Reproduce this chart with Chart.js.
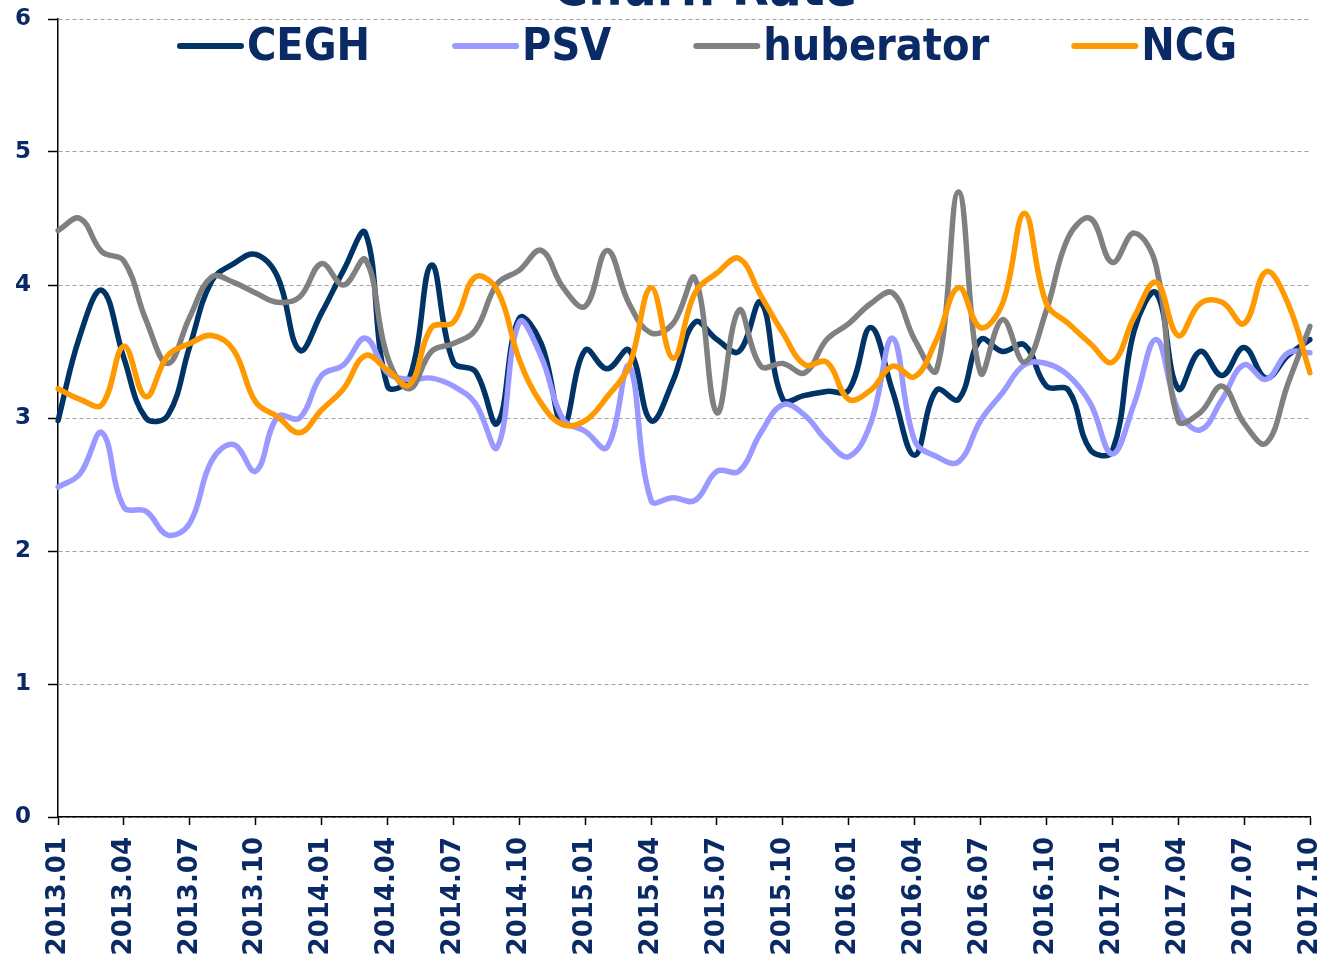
<!DOCTYPE html>
<html>
<head>
<meta charset="utf-8">
<script src="https://cdn.jsdelivr.net/npm/chart.js@4"></script>
<style>
html,body{margin:0;padding:0;background:#fff;}
canvas{display:block;}
</style>
</head>
<body>
<canvas id="churn" width="1323" height="956"></canvas>
<script>
const months = [
"2013.01","2013.02","2013.03","2013.04","2013.05","2013.06","2013.07","2013.08","2013.09","2013.10","2013.11","2013.12",
"2014.01","2014.02","2014.03","2014.04","2014.05","2014.06","2014.07","2014.08","2014.09","2014.10","2014.11","2014.12",
"2015.01","2015.02","2015.03","2015.04","2015.05","2015.06","2015.07","2015.08","2015.09","2015.10","2015.11","2015.12",
"2016.01","2016.02","2016.03","2016.04","2016.05","2016.06","2016.07","2016.08","2016.09","2016.10","2016.11","2016.12",
"2017.01","2017.02","2017.03","2017.04","2017.05","2017.06","2017.07","2017.08","2017.09","2017.10"
];

const cegh = [
2.98,3.62,3.96,3.45,3.00,3.02,3.54,4.03,4.16,4.23,4.06,3.51,
3.79,4.11,4.39,3.24,3.30,4.15,3.42,3.35,2.96,3.75,3.56,2.95,
3.51,3.37,3.51,2.98,3.28,3.72,3.59,3.50,3.87,3.14,3.17,3.20,
3.21,3.68,3.20,2.72,3.21,3.14,3.59,3.50,3.55,3.24,3.21,2.76,
2.75,3.66,3.94,3.22,3.50,3.32,3.53,3.30,3.47,3.59
];

const psv = [
2.48,2.58,2.89,2.33,2.30,2.12,2.21,2.68,2.80,2.60,3.01,3.00,
3.32,3.40,3.60,3.34,3.29,3.30,3.24,3.11,2.78,3.72,3.46,2.99,
2.90,2.78,3.39,2.38,2.40,2.38,2.60,2.60,2.89,3.10,3.02,2.83,
2.71,2.96,3.60,2.83,2.71,2.67,2.98,3.19,3.40,3.41,3.32,3.11,
2.73,3.11,3.59,3.06,2.91,3.14,3.40,3.29,3.49,3.49
];

const huberator = [
4.41,4.50,4.25,4.18,3.74,3.41,3.76,4.06,4.02,3.94,3.87,3.91,
4.16,4.00,4.19,3.46,3.22,3.50,3.56,3.66,4.01,4.11,4.26,3.98,
3.84,4.26,3.86,3.64,3.71,4.05,3.04,3.81,3.39,3.41,3.34,3.59,
3.71,3.86,3.94,3.59,3.36,4.70,3.34,3.74,3.42,3.81,4.36,4.50,
4.17,4.39,4.14,2.98,3.04,3.24,2.96,2.81,3.26,3.69
];

const ncg = [
3.22,3.14,3.10,3.54,3.16,3.47,3.56,3.62,3.51,3.12,3.01,2.89,
3.06,3.22,3.47,3.36,3.25,3.68,3.72,4.06,3.96,3.44,3.11,2.95,
2.98,3.16,3.39,3.98,3.45,3.94,4.09,4.20,3.92,3.64,3.40,3.42,
3.14,3.21,3.39,3.31,3.59,3.98,3.68,3.86,4.54,3.86,3.71,3.56,
3.42,3.76,4.02,3.62,3.86,3.87,3.71,4.10,3.86,3.34
];

const seriesNames = ["CEGH","PSV","huberator","NCG"];
const seriesData = [cegh,psv,huberator,ncg];
const seriesColors = ["#003366","#9999ff","#808080","#ff9900"];
const chartTitle = "Churn Rate";

const navy = "#0a2a66";
const fontName = "'DejaVu Sans'";

// text squeezed a bit sideways, the original font is narrower
function squeezeText(ctx,txt,x,y,sx){
ctx.save();
ctx.translate(x,y);
ctx.scale(sx,1);
ctx.fillText(txt,0,0);
ctx.restore();
}

// title (cut by the top edge) and the legend sitting inside the plot
const topTexts = {
id:"topTexts",
afterDraw(chart){

const ctx = chart.ctx;
const sx = 0.91;

ctx.save();
ctx.fillStyle = navy;
ctx.textBaseline = "alphabetic";
ctx.textAlign = "left";

ctx.font = "bold 53px " + fontName;
let tw = ctx.measureText(chartTitle).width*sx;
squeezeText(ctx,chartTitle,705-tw/2,5,sx);

ctx.font = "bold 44px " + fontName;

const lineLen = 65;
const gap = 82;

let widths = seriesNames.map(n=>ctx.measureText(n).width*sx);
let total = 0;
widths.forEach(w=>{ total += lineLen + 5 + w; });
total += gap*(seriesNames.length-1);

let x = 707 - total/2;

seriesNames.forEach((n,i)=>{

ctx.strokeStyle = seriesColors[i];
ctx.lineWidth = 6;
ctx.lineCap = "round";
ctx.beginPath();
ctx.moveTo(x+3,46);
ctx.lineTo(x+lineLen-1,46);
ctx.stroke();

ctx.fillStyle = navy;
squeezeText(ctx,n,x+lineLen+5,60,sx);

x += lineLen + 5 + widths[i] + gap;

});

ctx.restore();
}
};

new Chart(
document.getElementById("churn"),
{
type:"line",
data:{
labels:months,
datasets:seriesNames.map((n,i)=>({
label:n,
data:seriesData[i],
borderColor:seriesColors[i],
backgroundColor:seriesColors[i],
borderWidth:5.5,
pointRadius:0,
pointHoverRadius:0,
tension:0.4,
fill:false,
borderCapStyle:"round",
borderJoinStyle:"round",
order:3-i
}))
},
options:{
responsive:false,
animation:false,
layout:{
padding:0
},
plugins:{
legend:{display:false},
title:{display:false},
tooltip:{enabled:false}
},
scales:{
x:{
grid:{
drawOnChartArea:false,
tickLength:8,
tickWidth:1.5,
tickColor:c=> c.index%3==0 ? "#000" : "rgba(0,0,0,0)"
},
border:{color:"#000",width:1.5},
ticks:{
autoSkip:false,
maxRotation:90,
minRotation:90,
padding:12,
color:navy,
font:{family:"DejaVu Sans",weight:"bold",size:26,lineHeight:1},
callback:(v,i)=> i%3==0 ? months[i] : ""
},
afterFit:s=>{
s.height = 139;
s.paddingLeft = 0;
s.paddingRight = 13;
}
},
y:{
min:0,
max:6,
ticks:{
stepSize:1,
padding:17,
color:navy,
font:{family:"DejaVu Sans",weight:"bold",size:23}
},
grid:{
color:"#a0a0a0",
lineWidth:1,
tickColor:"#000",
tickLength:10,
tickWidth:1.5
},
border:{color:"#000",width:1.5,dash:[4,3]},
afterFit:s=>{
s.width = 58;
s.paddingTop = 19;
s.paddingBottom = 0;
}
}
}
},
plugins:[topTexts]
}
);
</script>
</body>
</html>
